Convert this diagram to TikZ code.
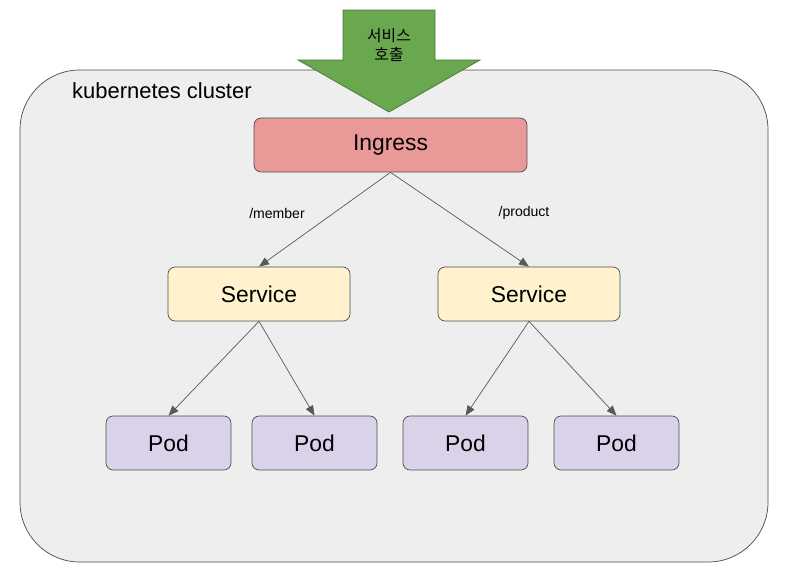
\documentclass[tikz,border=0pt]{standalone}
\usepackage{fontspec}
\setmainfont{Liberation Sans}
\newfontfamily\cjk{Noto Sans CJK KR}
\usetikzlibrary{arrows.meta, positioning}
\definecolor{clusterGray}{RGB}{238,238,238}
\definecolor{ingressRed}{RGB}{234,153,153}
\definecolor{serviceYellow}{RGB}{255,242,204}
\definecolor{podPurple}{RGB}{217,210,233}
\definecolor{callGreen}{RGB}{106,168,79}

\begin{document}
\begin{tikzpicture}[
    x=0.02cm, y=-0.02cm,
    box/.style={rectangle, draw=black!70, rounded corners=4pt, font=\fontsize{13}{15}\selectfont, inner sep=0pt},
    ingress/.style={box, fill=ingressRed, minimum width=5.46cm, minimum height=1.08cm},
    service/.style={box, fill=serviceYellow, minimum width=3.64cm, minimum height=1.08cm},
    pod/.style={box, fill=podPurple, minimum width=2.5cm, minimum height=1.08cm},
    arrow/.style={-{Triangle[length=2mm, width=1.6mm]}, draw=black!65},
    path/.style={font=\footnotesize}
]
\useasboundingbox (0,0) rectangle (789,578);

\draw[draw=black!70, fill=clusterGray, rounded corners=34pt] (20,70) rectangle (768,562);
\node[anchor=west, font=\fontsize{12.5}{15}\selectfont] (cluster) at (66,91) {kubernetes cluster};

% external call
\draw[draw=callGreen!70!black, fill=callGreen] (343,10) -- (435,10) -- (435,60) -- (480,60)
    -- (389,112) -- (298,60) -- (343,60) -- cycle;
\node[font=\cjk\small, align=center] (call) at (389,45) {서비스\\호출};

\node[ingress] (ingress) at (390.5,145) {Ingress};

\node[service] (svcMember) at (259,294) {Service};
\node[service] (svcProduct) at (529,294) {Service};

\node[pod] (pod1) at (168.5,443) {Pod};
\node[pod] (pod2) at (314.5,443) {Pod};
\node[pod] (pod3) at (465.5,443) {Pod};
\node[pod] (pod4) at (616.5,443) {Pod};

\node[path] (lblMember) at (277,213) {/member};
\node[path] (lblProduct) at (524,213) {/product};

\draw[arrow] (ingress.south) -- (svcMember.north);
\draw[arrow] (ingress.south) -- (svcProduct.north);

\draw[arrow] (svcMember.south) -- (pod1.north);
\draw[arrow] (svcMember.south) -- (pod2.north);
\draw[arrow] (svcProduct.south) -- (pod3.north);
\draw[arrow] (svcProduct.south) -- (pod4.north);

\end{tikzpicture}
\end{document}
